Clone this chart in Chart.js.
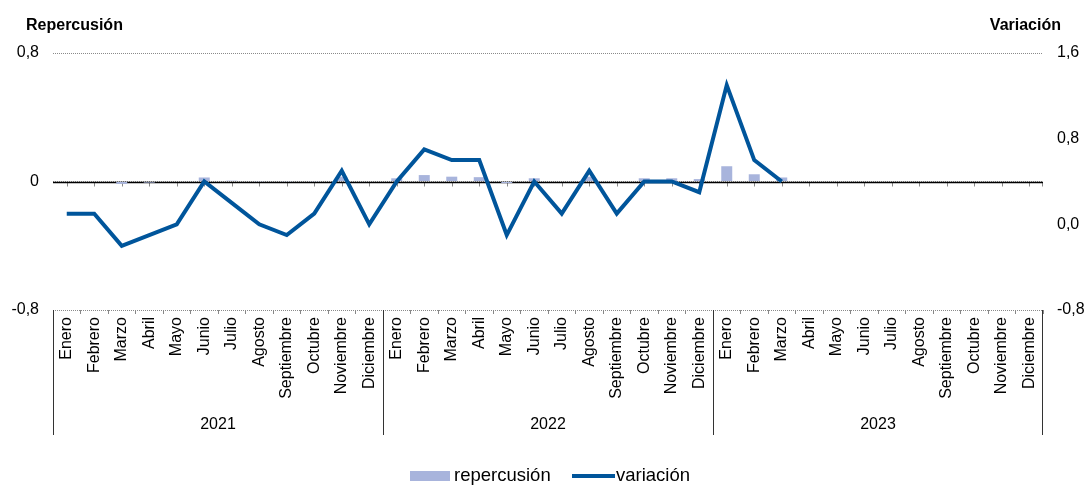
<!DOCTYPE html>
<html>
<head>
<meta charset="utf-8">
<script src="https://cdn.jsdelivr.net/npm/chart.js@4.4.0/dist/chart.umd.min.js"></script>
<style>
html,body{margin:0;padding:0;background:#fff;}
#wrap{width:1088px;height:486px;position:relative;}
</style>
</head>
<body>
<div id="wrap"><canvas id="c" width="1088" height="486"></canvas></div>
<script>
const months = ["Enero","Febrero","Marzo","Abril","Mayo","Junio","Julio","Agosto","Septiembre","Octubre","Noviembre","Diciembre"];
const years = ["2021","2022","2023"];
const categories = [].concat(months, months, months);

const repercusion = [
  0.003, 0.003, -0.015, -0.007, 0.0, 0.025, 0.005, -0.002, -0.002, 0.002, 0.03, 0.0,
  0.02, 0.04, 0.03, 0.027, -0.01, 0.02, 0.0, 0.03, 0.0, 0.02, 0.02, 0.015,
  0.095, 0.045, 0.025, null, null, null, null, null, null, null, null, null
];
const variacion = [
  0.1, 0.1, -0.2, -0.1, 0.0, 0.4, 0.2, 0.0, -0.1, 0.1, 0.5, 0.0,
  0.4, 0.7, 0.6, 0.6, -0.1, 0.4, 0.1, 0.5, 0.1, 0.4, 0.4, 0.3,
  1.3, 0.6, 0.4, null, null, null, null, null, null, null, null, null
];
const leftTicks = [-0.8, 0, 0.8];
const rightTicks = [-0.8, 0.0, 0.8, 1.6];
const leftTitle = "Repercusión";
const rightTitle = "Variación";
const seriesNames = ["repercusión", "variación"];

const BAR_COLOR = "#a8b4dc";
const LINE_COLOR = "#00559b";
const FONT = "'Liberation Sans', Arial, sans-serif";

function fmtLeft(v){ if (Math.abs(v) < 1e-9) return "0"; return v.toFixed(1).replace(".", ","); }
function fmtRight(v){ if (Math.abs(v) < 1e-9) v = 0; return v.toFixed(1).replace(".", ","); }

const decor = {
  id: "decor",
  beforeDatasetsDraw(chart) {
    const {ctx, chartArea} = chart;
    const x = chart.scales.x, y = chart.scales.y;
    const zy = Math.round(y.getPixelForValue(0)) + 0.5;
    ctx.save();
    // small ticks below zero line
    ctx.strokeStyle = "#888";
    ctx.lineWidth = 1;
    ctx.beginPath();
    for (let i = 0; i < categories.length; i++) {
      const px = Math.round(x.getPixelForValue(i)) + 0.5;
      ctx.moveTo(px, zy); ctx.lineTo(px, zy + 4);
    }
    const rx = Math.round(chartArea.right) - 0.5;
    ctx.moveTo(rx, zy); ctx.lineTo(rx, zy + 4);
    ctx.stroke();
    // zero line
    ctx.strokeStyle = "#000";
    ctx.lineWidth = 1.5;
    ctx.beginPath();
    ctx.moveTo(chartArea.left, zy);
    ctx.lineTo(chartArea.right, zy);
    ctx.stroke();
    ctx.restore();
  },
  afterDraw(chart) {
    const {ctx, chartArea} = chart;
    const x = chart.scales.x;
    const n = categories.length;
    const cw = (chartArea.right - chartArea.left) / n;
    ctx.save();
    // year separators
    ctx.strokeStyle = "#333";
    ctx.lineWidth = 1;
    ctx.beginPath();
    for (let k = 0; k <= years.length; k++) {
      let px = chartArea.left + k * 12 * cw;
      px = Math.round(px) + (k === years.length ? -0.5 : 0.5);
      ctx.moveTo(px, chartArea.bottom);
      ctx.lineTo(px, chartArea.bottom + 125);
    }
    ctx.stroke();
    // year labels
    ctx.fillStyle = "#000";
    ctx.font = "16px " + FONT;
    ctx.textAlign = "center";
    ctx.textBaseline = "middle";
    for (let k = 0; k < years.length; k++) {
      const cx = (x.getPixelForValue(k * 12) + x.getPixelForValue(k * 12 + 11)) / 2;
      ctx.fillText(years[k], cx, chartArea.bottom + 115);
    }
    // axis titles
    ctx.font = "bold 16px " + FONT;
    ctx.textAlign = "left";
    ctx.fillText(leftTitle, 26, 26);
    ctx.textAlign = "right";
    ctx.fillText(rightTitle, 1061, 26);
    // legend
    const ly = 476;
    ctx.font = "18.5px " + FONT;
    ctx.textAlign = "left";
    ctx.fillStyle = BAR_COLOR;
    ctx.fillRect(410, ly - 5, 40, 10);
    ctx.fillStyle = "#000";
    ctx.fillText(seriesNames[0], 454, ly);
    ctx.strokeStyle = LINE_COLOR;
    ctx.lineWidth = 4;
    ctx.beginPath();
    ctx.moveTo(572, ly); ctx.lineTo(615, ly);
    ctx.stroke();
    ctx.fillText(seriesNames[1], 616, ly);
    ctx.restore();
  }
};

new Chart(document.getElementById("c"), {
  data: {
    labels: categories,
    datasets: [
      {
        type: "line",
        label: seriesNames[1],
        data: variacion,
        yAxisID: "y1",
        borderColor: LINE_COLOR,
        backgroundColor: LINE_COLOR,
        borderWidth: 4,
        pointRadius: 0,
        pointHoverRadius: 0,
        tension: 0,
        spanGaps: false,
        order: 0
      },
      {
        type: "bar",
        label: seriesNames[0],
        data: repercusion,
        yAxisID: "y",
        backgroundColor: BAR_COLOR,
        borderWidth: 0,
        barPercentage: 0.4,
        categoryPercentage: 1.0,
        order: 1
      }
    ]
  },
  options: {
    responsive: false,
    animation: false,
    devicePixelRatio: 1,
    layout: { padding: { top: 53, left: 0, right: 0, bottom: 0 } },
    plugins: {
      legend: { display: false },
      tooltip: { enabled: false },
      title: { display: false }
    },
    scales: {
      x: {
        type: "category",
        offset: true,
        grid: {
          offset: true,
          drawOnChartArea: false,
          drawTicks: true,
          tickLength: 4,
          color: "#888",
          tickColor: "#888"
        },
        border: { display: false },
        ticks: {
          autoSkip: false,
          maxRotation: 90,
          minRotation: 90,
          padding: 3,
          color: "#000",
          font: { family: FONT, size: 16 }
        },
        afterFit(s) { s.height = 176; }
      },
      y: {
        position: "left",
        min: -0.8,
        max: 0.8,
        afterBuildTicks(s) { s.ticks = leftTicks.map(v => ({ value: v })); },
        grid: {
          drawTicks: false,
          color: "#8a8a8a",
          lineWidth: 1
        },
        border: { display: false, dash: [1, 1] },
        ticks: {
          padding: 14,
          color: "#000",
          font: { family: FONT, size: 16 },
          callback: (v) => fmtLeft(v)
        },
        afterFit(s) { s.width = 53; }
      },
      y1: {
        position: "right",
        min: -0.8,
        max: 1.6,
        afterBuildTicks(s) { s.ticks = rightTicks.map(v => ({ value: v })); },
        grid: { display: false, drawTicks: false },
        border: { display: false },
        ticks: {
          padding: 14,
          color: "#000",
          font: { family: FONT, size: 16 },
          callback: (v) => fmtRight(v)
        },
        afterFit(s) { s.width = 45; }
      }
    }
  },
  plugins: [decor]
});
</script>
</body>
</html>
